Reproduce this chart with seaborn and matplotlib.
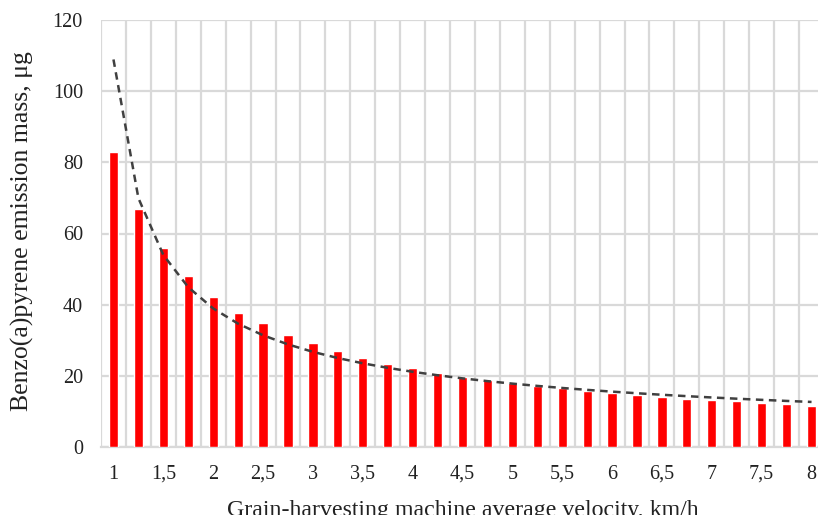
import numpy as np
import pandas as pd
import matplotlib
matplotlib.use("Agg")
import matplotlib.pyplot as plt
import seaborn as sns

# velocity steps, km/h (category axis, every 0.25)
velocity = [1, 1.25, 1.5, 1.75, 2, 2.25, 2.5, 2.75, 3, 3.25, 3.5, 3.75, 4, 4.25,
            4.5, 4.75, 5, 5.25, 5.5, 5.75, 6, 6.25, 6.5, 6.75, 7, 7.25, 7.5, 7.75, 8]
# benzo(a)pyrene emission mass, ug
mass = [83.0, 66.8, 55.8, 48.1, 42.2, 37.7, 34.8, 31.5, 29.1, 27.0, 24.9, 23.3,
        22.1, 20.7, 19.8, 18.8, 17.9, 17.1, 16.5, 15.8, 15.2, 14.6, 14.0, 13.6,
        13.2, 12.9, 12.3, 12.0, 11.6]

df = pd.DataFrame({"v": [str(v) for v in velocity], "mass": mass})

# power trendline fitted on category index like Excel does
idx = np.arange(1, len(mass) + 1)
b, lna = np.polyfit(np.log(idx), np.log(mass), 1)
trend = np.exp(lna) * idx ** b

sns.set_style("white")
plt.rcParams["font.family"] = ["Liberation Serif", "DejaVu Serif"]

fig = plt.figure(figsize=(8.18, 5.15), dpi=100)
ax = fig.add_axes([101 / 818, 68 / 515, 723 / 818, 427 / 515])

sns.barplot(data=df, x="v", y="mass", color="#ff0000", width=0.37,
            saturation=1, ax=ax, zorder=3)
ax.plot(np.arange(len(mass)), trend, color="#404040", linestyle=(0, (3, 2.2)),
        linewidth=1.8, zorder=4)

ax.set_ylim(0, 120)
ax.set_xlim(-0.5, len(mass) - 0.5)
ax.set_yticks(range(0, 121, 20))
ax.set_xticks(np.arange(len(mass)))
ax.set_xticklabels([("%g" % v).replace(".", ",") if i % 2 == 0 else ""
                    for i, v in enumerate(velocity)], va="baseline")
ax.set_xticks(np.arange(-0.5, len(mass), 1), minor=True)

ax.grid(axis="y", which="major", color="#d9d9d9", linewidth=1.6, zorder=0)
ax.grid(axis="x", which="minor", color="#d9d9d9", linewidth=1.6, zorder=0)
ax.grid(axis="x", which="major", visible=False)
ax.set_axisbelow(True)

for s in ["top", "right", "left"]:
    ax.spines[s].set_visible(False)
ax.spines["bottom"].set_color("#d9d9d9")
ax.spines["bottom"].set_linewidth(1.6)

ax.tick_params(axis="both", which="both", length=0, labelsize=14.5, colors="#222222")
ax.tick_params(axis="x", pad=23)
ax.tick_params(axis="y", pad=13)

ax.set_xlabel("Grain-harvesting machine average velocity, km/h", fontsize=17.2,
              color="#222222")
ax.set_ylabel("Benzo(a)pyrene emission mass, \u03bcg", fontsize=18.5,
              color="#222222")
ax.xaxis.set_label_coords(0.5, -0.123)
ax.yaxis.set_label_coords(-0.093, 0.505)

fig.savefig("out.png", dpi=100)
